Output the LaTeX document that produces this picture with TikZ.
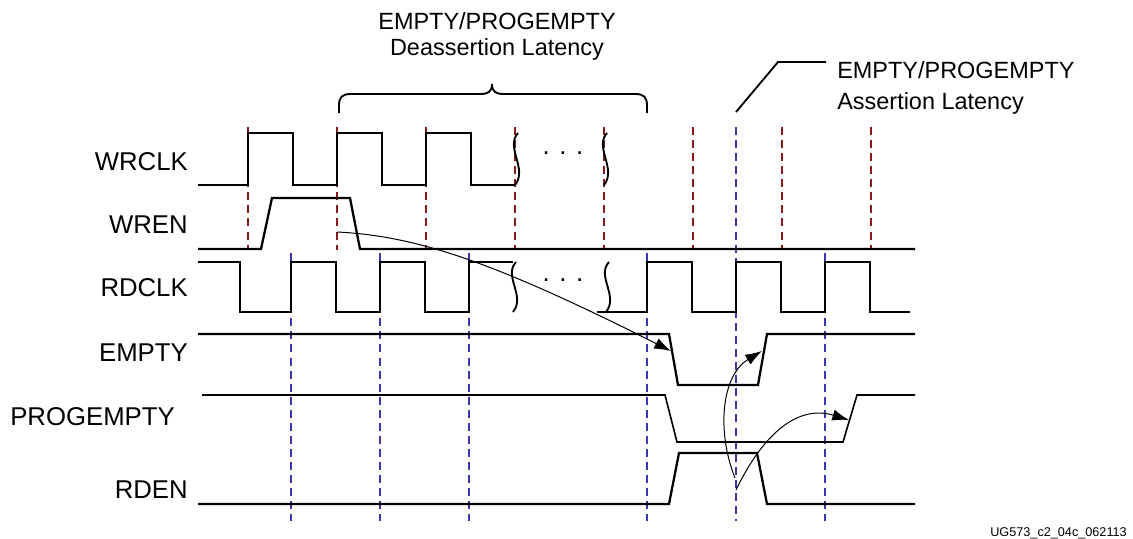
\documentclass[tikz,border=0pt]{standalone}
\usepackage{fontspec}
\setmainfont{Liberation Sans}
\usetikzlibrary{arrows.meta}

\begin{document}
\begin{tikzpicture}[x=0.75pt,y=-0.75pt]
    % -----------------------------
    % Parameters (pixel grid, y grows downward)
    % -----------------------------
    \def\lw{1.7pt}        % waveform line width
    \def\lwThin{1.2pt}    % PROGEMPTY is drawn a bit lighter
    \def\dashLw{0.95pt}   % clock guide lines
    \def\arcLw{0.75pt}    % latency arrows

    % Signal levels (high / low)
    \def\wrHi{133}  \def\wrLo{185}
    \def\enHi{198}  \def\enLo{249}
    \def\rcHi{262}  \def\rcLo{312}
    \def\emHi{334}  \def\emLo{385}
    \def\peHi{395}  \def\peLo{442}
    \def\reHi{453}  \def\reLo{504}

    \definecolor{wrguide}{RGB}{135,25,25}
    \definecolor{rdguide}{RGB}{55,55,175}

    \newcommand{\sigfont}{\fontsize{19.3pt}{22pt}\selectfont}
    \newcommand{\notefont}{\fontsize{17.6pt}{19.5pt}\selectfont}

    % -----------------------------
    % Styles and helpers
    % -----------------------------
    \tikzset{
      wave/.style={draw=black, line width=\lw, line join=miter},
      wrguideline/.style={draw=wrguide, line width=\dashLw, dash pattern=on 6pt off 3.8pt},
      rdguideline/.style={draw=rdguide, line width=\dashLw, dash pattern=on 6pt off 3.8pt},
      latarrow/.style={draw=black, line width=\arcLw, -{Latex[length=12.5pt,width=8.5pt]}},
      siglabel/.style={anchor=base east, inner sep=0pt, font=\sigfont},
      dotsnode/.style={anchor=base, inner sep=0pt, font=\sigfont},
    }

    % Break mark on a clock trace: x, top y, bottom y
    \newcommand{\breakmark}[3]{%
      \draw[wave, line width=1.4pt] (#1+2,#2) .. controls (#1-11,#2+14) and (#1+12,#3-16) .. (#1-1,#3);
    }

    \useasboundingbox (0,0) rectangle (1133,539);

    % -----------------------------
    % Write clock guides (red) and read clock guides (blue)
    % -----------------------------
    \draw[wrguideline] (248,127) -- (248,250);
    \draw[wrguideline] (337,127) -- (337,250);
    \draw[wrguideline] (426,127) -- (426,250);
    \draw[wrguideline] (515,127) -- (515,250);
    \draw[wrguideline] (604,127) -- (604,250);
    \draw[wrguideline] (693,127) -- (693,250);
    \draw[wrguideline] (782,127) -- (782,250);
    \draw[wrguideline] (871,127) -- (871,250);

    \draw[rdguideline] (291,253) -- (291,521);
    \draw[rdguideline] (380,253) -- (380,521);
    \draw[rdguideline] (469,253) -- (469,521);
    \draw[rdguideline] (647,253) -- (647,521);
    \draw[rdguideline] (736,127) -- (736,521);
    \draw[rdguideline] (825,253) -- (825,521);

    % -----------------------------
    % Signal names
    % -----------------------------
    \node[siglabel] (lblWrclk) at (188,170) {WRCLK};
    \node[siglabel] (lblWren)  at (188,233) {WREN};
    \node[siglabel] (lblRdclk) at (188,296) {RDCLK};
    \node[siglabel] (lblEmpty) at (188,361) {EMPTY};
    \node[siglabel] (lblProg)  at (175,425) {PROGEMPTY};
    \node[siglabel] (lblRden)  at (188,498) {RDEN};

    % -----------------------------
    % Waveforms
    % -----------------------------
    % WRCLK
    \draw[wave] (198,\wrLo) -- (248,\wrLo) -- (248,\wrHi) -- (293,\wrHi) -- (293,\wrLo)
      -- (337,\wrLo) -- (337,\wrHi) -- (382,\wrHi) -- (382,\wrLo)
      -- (426,\wrLo) -- (426,\wrHi) -- (471,\wrHi) -- (471,\wrLo) -- (515,\wrLo);
    \breakmark{516}{\wrHi}{\wrLo}
    \breakmark{605}{\wrHi}{\wrLo}
    \node[dotsnode] (wrDots) at (563,154) {. . .};

    % WREN
    \draw[wave] (198,\enLo) -- (261,\enLo) -- (272,\enHi) -- (350,\enHi) -- (360,\enLo) -- (915,\enLo);

    % RDCLK
    \draw[wave] (198,\rcHi) -- (240,\rcHi) -- (240,\rcLo) -- (291,\rcLo) -- (291,\rcHi)
      -- (336,\rcHi) -- (336,\rcLo) -- (380,\rcLo) -- (380,\rcHi)
      -- (425,\rcHi) -- (425,\rcLo) -- (469,\rcLo) -- (469,\rcHi) -- (513,\rcHi);
    \breakmark{514}{\rcHi}{\rcLo}
    \breakmark{607}{\rcHi}{\rcLo}
    \node[dotsnode] (rdDots) at (563,281) {. . .};
    \draw[wave] (597,\rcLo) -- (647,\rcLo) -- (647,\rcHi) -- (692,\rcHi) -- (692,\rcLo)
      -- (736,\rcLo) -- (736,\rcHi) -- (781,\rcHi) -- (781,\rcLo)
      -- (825,\rcLo) -- (825,\rcHi) -- (870,\rcHi) -- (870,\rcLo) -- (910,\rcLo);

    % EMPTY
    \draw[wave] (198,\emHi) -- (669,\emHi) -- (678,\emLo) -- (758,\emLo) -- (767,\emHi) -- (915,\emHi);

    % PROGEMPTY
    \draw[wave, line width=\lwThin] (202,\peHi) -- (665,\peHi) -- (677,\peLo) -- (843,\peLo) -- (857,\peHi) -- (915,\peHi);

    % RDEN
    \draw[wave] (198,\reLo) -- (669,\reLo) -- (679,\reHi) -- (757,\reHi) -- (767,\reLo) -- (915,\reLo);

    % -----------------------------
    % Cause -> effect arrows
    % -----------------------------
    \coordinate (wrenMark)  at (337,232);
    \coordinate (emptyFall) at (671,351);
    \coordinate (rdenMarkA) at (735,478);
    \coordinate (emptyRise) at (762,351);
    \coordinate (rdenMarkB) at (736,490);
    \coordinate (progRise)  at (849,420);

    \draw[latarrow] (wrenMark) .. controls (420,236) and (500,265) .. (emptyFall);
    \draw[latarrow] (rdenMarkA) .. controls (716,430) and (722,375) .. (emptyRise);
    \draw[latarrow] (rdenMarkB) .. controls (765,430) and (800,405) .. (progRise);

    % -----------------------------
    % Latency annotations
    % -----------------------------
    \draw[line width=1.4pt] (339,113) -- (339,106) .. controls (339,97) and (342,94) .. (351,94)
      -- (480,94) .. controls (488,94) and (492,92) .. (492,84)
      .. controls (492,92) and (496,94) .. (504,94)
      -- (635,94) .. controls (644,94) and (647,97) .. (647,106) -- (647,113);
    \node[font=\notefont, align=center, inner sep=0pt] (deassertNote) at (497,36)
      {EMPTY/PROGEMPTY\\Deassertion Latency};

    \coordinate (assertFoot) at (736,112);
    \draw[line width=1.4pt] (assertFoot) -- (778,62) -- (826,62);
    \node[font=\notefont, align=left, anchor=west, inner sep=0pt] (assertNote) at (837,88)
      {EMPTY/PROGEMPTY\\[4pt]Assertion Latency};

    % Figure tag
    \node[font=\fontsize{9.5pt}{11pt}\selectfont, anchor=base east, inner sep=0pt] (figTag) at (1127,536)
      {UG573\_c2\_04c\_062113};

\end{tikzpicture}
\end{document}
